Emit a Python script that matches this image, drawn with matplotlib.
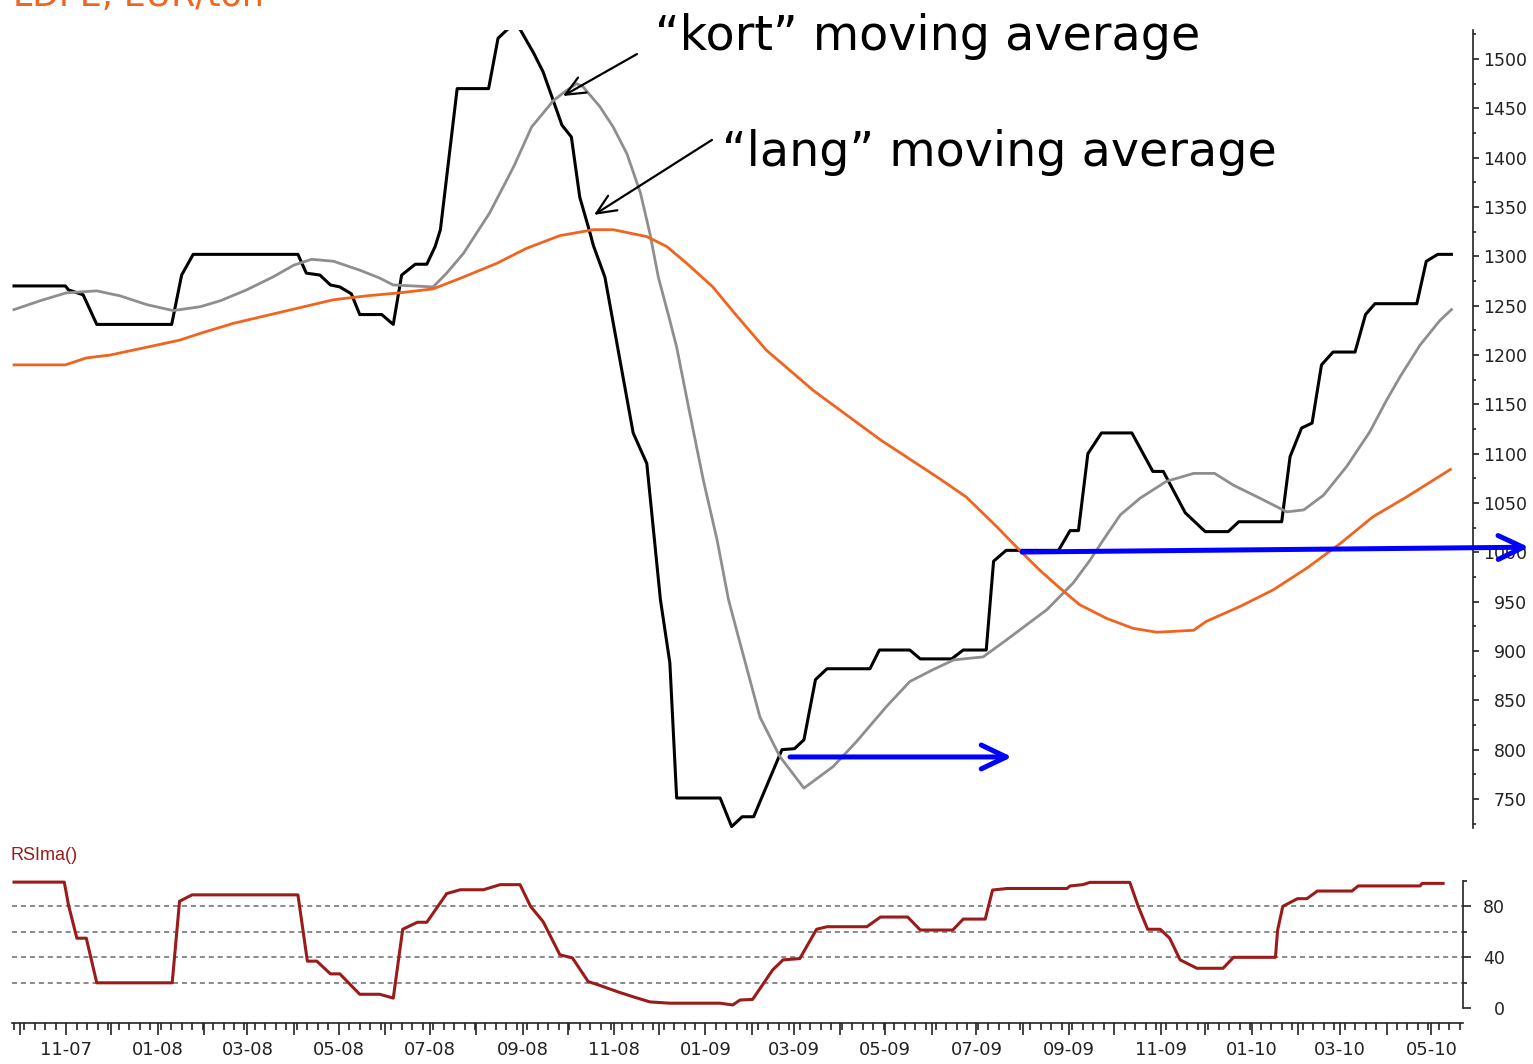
import matplotlib
matplotlib.use("Agg")
import matplotlib.pyplot as plt
import matplotlib.dates as mdates
from matplotlib.ticker import MultipleLocator, FixedLocator, FuncFormatter
import numpy as np
import pandas as pd

# ---------------- data (x = weeks since START) ----------------
START = pd.Timestamp("2007-09-27")

price = [(0, 1270), (4.9, 1270), (5.2, 1266), (6.6, 1261), (7.9, 1231), (15.05, 1231),
         (16.0, 1281), (17.1, 1302), (27.1, 1302), (27.9, 1283), (29.2, 1281), (30.2, 1271),
         (31.1, 1269), (32.2, 1262), (33.0, 1241), (35.1, 1241), (36.2, 1231), (37.0, 1281),
         (38.3, 1292), (39.4, 1292), (40.2, 1310), (40.7, 1327), (42.3, 1470), (45.3, 1470),
         (46.2, 1521), (47.3, 1532), (48.2, 1532), (49.6, 1506), (50.5, 1487), (52.3, 1433),
         (53.2, 1421), (54.0, 1360), (55.0, 1323), (55.3, 1311), (56.4, 1279), (59.1, 1121),
         (60.4, 1090), (61.7, 952), (62.6, 888), (63.25, 751), (67.4, 751), (68.5, 722),
         (69.5, 732), (70.6, 732), (73.3, 800), (74.5, 801), (75.4, 810), (76.5, 871),
         (77.6, 882), (81.7, 882), (82.6, 901), (85.5, 901), (86.5, 892), (89.5, 892),
         (90.6, 901), (92.8, 901), (93.5, 991), (94.7, 1002), (99.7, 1002), (100.8, 1022),
         (101.6, 1022), (102.5, 1100), (103.8, 1121), (106.7, 1121), (108.7, 1082),
         (109.7, 1082), (111.8, 1040), (113.7, 1021), (115.9, 1021), (116.9, 1031),
         (121.0, 1031), (121.8, 1097), (122.9, 1126), (123.9, 1131), (124.8, 1190),
         (125.9, 1203), (128.0, 1203), (129.0, 1241), (129.9, 1252), (133.9, 1252),
         (134.8, 1295), (135.9, 1302), (137.2, 1302)]

short_ma = [(0, 1246), (2.5, 1255), (5.0, 1263), (7.9, 1265), (10.1, 1260), (12.7, 1251),
            (15.2, 1245), (17.8, 1249), (19.7, 1255), (22.2, 1266), (24.7, 1279), (26.7, 1291),
            (28.4, 1297), (30.5, 1295), (33.0, 1286), (34.9, 1278), (36.2, 1271), (40.0, 1269),
            (41.3, 1283), (42.9, 1303), (45.4, 1344), (47.7, 1391), (49.4, 1431), (51.5, 1458),
            (52.6, 1467), (53.7, 1475), (54.3, 1472), (55.9, 1452), (57.2, 1431), (58.5, 1404),
            (59.8, 1364), (60.7, 1323), (61.5, 1279), (62.6, 1235), (63.25, 1208), (64.5, 1141),
            (65.8, 1073), (67.1, 1013), (68.2, 952), (69.3, 908), (71.2, 833), (73.1, 793),
            (75.4, 761), (78.2, 783), (80.4, 808), (83.3, 844), (85.5, 869), (87.7, 881),
            (89.7, 891), (92.5, 894), (94.7, 911), (98.6, 942), (101.1, 969), (102.7, 992),
            (104.0, 1013), (105.6, 1038), (107.5, 1055), (110.0, 1072), (112.6, 1080),
            (114.6, 1080), (116.4, 1068), (118.9, 1055), (121.5, 1041), (123.1, 1043),
            (125.0, 1058), (127.2, 1087), (129.4, 1122), (131.0, 1154), (132.3, 1178),
            (134.2, 1210), (136.1, 1235), (137.2, 1246)]

long_ma = [(0, 1190), (4.9, 1190), (6.9, 1197), (9.2, 1200), (11.4, 1205), (13.6, 1210),
           (15.8, 1215), (17.8, 1222), (20.9, 1232), (24.1, 1240), (27.3, 1248), (30.5, 1256),
           (33.7, 1260), (36.8, 1263), (40.0, 1267), (42.9, 1279), (46.1, 1293), (48.9, 1308),
           (52.1, 1321), (55.3, 1327), (57.2, 1327), (60.4, 1320), (62.3, 1310), (64.2, 1293),
           (66.7, 1269), (68.8, 1242), (71.8, 1205), (76.3, 1164), (82.7, 1114), (88.3, 1075),
           (90.9, 1056), (93.8, 1026), (96.0, 1002), (97.9, 982), (99.8, 964), (101.7, 947),
           (104.3, 933), (106.8, 923), (109.1, 919), (112.6, 921), (113.8, 930), (117.0, 945),
           (120.2, 962), (123.4, 984), (126.6, 1009), (129.7, 1036), (132.9, 1056), (137.1, 1084)]

rsi = [(0, 99), (4.8, 99), (5.2, 81), (6.0, 55), (6.9, 55), (7.9, 20), (15.1, 20), (15.8, 84),
       (17.0, 89), (27.1, 89), (28.0, 37), (28.9, 37), (30.2, 27), (31.1, 27), (33.0, 11),
       (34.9, 11), (36.2, 8), (37.1, 62), (38.5, 67.5), (39.4, 67.5), (41.3, 90), (42.6, 93),
       (44.8, 93), (46.4, 97), (48.3, 97), (49.3, 80), (50.5, 68), (52.1, 42), (53.3, 39.5),
       (54.8, 21), (55.9, 18), (57.6, 13), (59.1, 9), (60.7, 5), (62.6, 4), (67.4, 4),
       (68.6, 2.6), (69.3, 6.5), (70.5, 7), (72.4, 30), (73.4, 38), (75.0, 39), (76.6, 62),
       (77.6, 64), (81.4, 64), (82.7, 71.6), (85.3, 71.6), (86.5, 61.4), (89.6, 61.4),
       (90.6, 70), (92.7, 70), (93.4, 92.8), (94.8, 94), (100.5, 94), (100.8, 96), (102.0, 97),
       (102.7, 98.8), (106.5, 98.8), (107.3, 80), (108.2, 62), (109.4, 62), (110.3, 55),
       (111.3, 38), (112.9, 31.4), (115.4, 31.4), (116.4, 40), (120.4, 40), (120.6, 61),
       (121.1, 80), (122.5, 86), (123.4, 86), (124.4, 92), (127.7, 92), (128.3, 96),
       (134.2, 96), (134.4, 98), (136.4, 98)]

rsi_levels = [20, 40, 60, 80]

# ---------------- helpers ----------------
def to_dates(weeks):
    w = np.asarray(weeks, dtype=float)
    return (START + pd.to_timedelta(w * 7, unit="D")).to_numpy()

def split(pairs):
    w, v = zip(*pairs)
    return to_dates(w), np.array(v, dtype=float)

W, H, DPI = 1533, 1064, 100
fig = plt.figure(figsize=(W / DPI, H / DPI), dpi=DPI)
fig.patch.set_facecolor("white")

BLACK = "#000000"
GRAY = "#8e8e8e"
ORANGE = "#f0641e"
DARKRED = "#9b1b1b"
BLUE = "#0000ff"
TICKC = "#222222"
plt.rcParams["font.family"] = ["DejaVu Sans"]

# ---------------- main price panel ----------------
ax = fig.add_axes([12 / W, 1 - 828 / H, (1473 - 12) / W, (828 - 30) / H])
ax.set_xlim(to_dates([-0.191])[0], to_dates([139.26])[0])
ax.set_ylim(720.6, 1529.4)
for s in ["top", "left", "bottom"]:
    ax.spines[s].set_visible(False)
ax.spines["right"].set_color(TICKC)
ax.spines["right"].set_linewidth(1.2)
ax.tick_params(axis="x", bottom=False, labelbottom=False)
ax.yaxis.tick_right()
ax.yaxis.set_major_locator(MultipleLocator(50))
ax.yaxis.set_minor_locator(MultipleLocator(25))
ax.tick_params(axis="y", which="major", right=True, left=False, direction="out",
               length=4.3, width=1.2, color=TICKC, labelsize=12.5, labelcolor=TICKC,
               pad=34.6)
ax.tick_params(axis="y", which="minor", right=True, left=False, direction="out",
               length=2.4, width=1.2, color=TICKC)
for lab in ax.get_yticklabels():
    lab.set_horizontalalignment("right")

x, y = split(price)
ax.plot(x, y, color=BLACK, lw=2.2, zorder=3)
x, y = split(short_ma)
ax.plot(x, y, color=GRAY, lw=2.0, zorder=4)
x, y = split(long_ma)
ax.plot(x, y, color=ORANGE, lw=2.0, zorder=5)

# annotations
ax.text(to_dates([61.18])[0], 1509, "\u201ckort\u201d moving average", fontsize=34.3,
        color=BLACK, ha="left", va="baseline", zorder=6)
ax.text(to_dates([67.58])[0], 1391.6, "\u201clang\u201d moving average", fontsize=34.3,
        color=BLACK, ha="left", va="baseline", zorder=6)
black_arrow = dict(arrowstyle="->,head_length=0.7,head_width=0.31", lw=1.6, color=BLACK,
                   shrinkA=0, shrinkB=0, mutation_scale=20)
ax.annotate("", xy=(to_dates([52.4])[0], 1462.5), xytext=(to_dates([59.46])[0], 1505),
            arrowprops=black_arrow, zorder=6)
ax.annotate("", xy=(to_dates([55.36])[0], 1342), xytext=(to_dates([66.62])[0], 1418),
            arrowprops=black_arrow, zorder=6)

blue_arrow = dict(arrowstyle="->,head_length=0.9,head_width=0.43", lw=3.6, color=BLUE,
                  shrinkA=0, shrinkB=0, mutation_scale=20)
ax.annotate("", xy=(to_dates([95.26])[0], 792.6), xytext=(to_dates([74.07])[0], 792.6),
            arrowprops=blue_arrow, zorder=7, annotation_clip=False)
ax.annotate("", xy=(to_dates([144.6])[0], 1005.2), xytext=(to_dates([96.21])[0], 1000.3),
            arrowprops=blue_arrow, zorder=7, annotation_clip=False)

fig.text(13 / W, 1 - 6 / H, "LDPE, EUR/ton", fontsize=25, color=ORANGE,
         ha="left", va="baseline")

# ---------------- RSI panel ----------------
ax2 = fig.add_axes([12 / W, 1 - 1022.7 / H, (1463 - 12) / W, (1022.7 - 870) / H])
ax2.set_xlim(to_dates([-0.191])[0], to_dates([138.30])[0])
ax2.set_ylim(-11.3, 108.5)
ax2.spines["top"].set_visible(False)
ax2.spines["left"].set_visible(False)
ax2.spines["right"].set_bounds(0, 100)
for s in ["right", "bottom"]:
    ax2.spines[s].set_color(TICKC)
    ax2.spines[s].set_linewidth(1.2)

for lv in rsi_levels:
    ax2.axhline(lv, color="#8a8a8a", lw=1.4, ls=(0, (2.6, 2.0)), zorder=1)

x, y = split(rsi)
ax2.plot(x, y, color=DARKRED, lw=2.2, zorder=3)

ax2.yaxis.tick_right()
ax2.yaxis.set_major_locator(FixedLocator([0, 40, 80]))
ax2.yaxis.set_minor_locator(FixedLocator([20, 60, 100]))
ax2.tick_params(axis="y", which="major", right=True, left=False, direction="out",
                length=5.8, width=1.2, color=TICKC, labelsize=12.5, labelcolor=TICKC,
                pad=24.4)
ax2.tick_params(axis="y", which="minor", right=True, left=False, direction="out",
                length=3.0, width=1.2, color=TICKC)
for lab in ax2.get_yticklabels():
    lab.set_horizontalalignment("right")

ax2.xaxis.set_major_locator(mdates.MonthLocator())
ax2.xaxis.set_minor_locator(mdates.WeekdayLocator(byweekday=mdates.TH))

def month_fmt(v, pos):
    d = mdates.num2date(v)
    return d.strftime("%m-%y") if d.month % 2 == 1 else ""

ax2.xaxis.set_major_formatter(FuncFormatter(month_fmt))
ax2.tick_params(axis="x", which="major", direction="out", length=8.6, width=1.2,
                color=TICKC, labelsize=13, labelcolor=TICKC, pad=4.5)
ax2.tick_params(axis="x", which="minor", direction="out", length=5.0, width=1.2,
                color=TICKC)

fig.text(10 / W, 1 - 855 / H, "RSIma()", fontsize=13, color=DARKRED,
         family=["Liberation Sans", "DejaVu Sans"], ha="left", va="center")

fig.savefig("out.png", dpi=DPI, facecolor="white")
